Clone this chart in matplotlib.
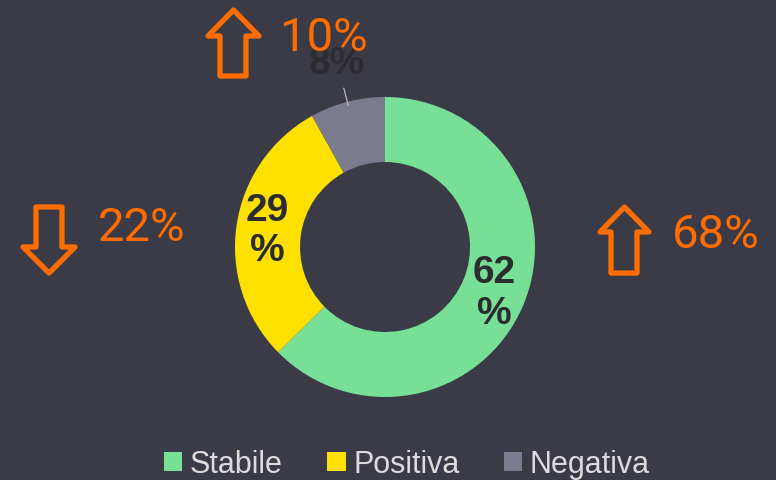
import numpy as np
import matplotlib
matplotlib.use("Agg")
import matplotlib.pyplot as plt
from matplotlib.patches import Polygon

# data
categories = ["Stabile", "Positiva", "Negativa"]
shares = [62, 29, 8]
share_labels = ["62\n%", "29\n%", "8%"]
colors = ["#78df97", "#ffe100", "#7b7a8f"]

# changes shown with arrows
change_texts = ["10%", "22%", "68%"]
change_dirs = ["up", "down", "up"]

BG = "#3b3b47"
ORANGE = "#ff6c00"
W, H = 776, 481

fig = plt.figure(figsize=(W / 100, H / 100), dpi=100, facecolor=BG)
ax = fig.add_axes([0, 0, 1, 1])
ax.set_facecolor(BG)

cx, cy = 385, H - 248
r_out, r_in = 150, 85

wedges, _ = ax.pie(shares, colors=colors, startangle=90, counterclock=False,
                   radius=r_out, center=(cx, cy),
                   wedgeprops=dict(width=r_out - r_in, linewidth=0))

# slice labels
label_r = [118, 119, 190]
for w, lab, rr in zip(wedges, share_labels, label_r):
    mid = np.deg2rad((w.theta1 + w.theta2) / 2)
    x = cx + rr * np.cos(mid)
    y = cy + rr * np.sin(mid)
    ax.text(x, y, lab, ha="center", va="center", fontsize=28, fontweight="bold",
            family="Liberation Sans", color="#2b2b30", linespacing=1.15)

# leader line for the small slice
g = wedges[2]
mid = np.deg2rad((g.theta1 + g.theta2) / 2)
ax.plot([cx + 146 * np.cos(mid), cx + 164 * np.cos(mid)],
        [cy + 146 * np.sin(mid), cy + 164 * np.sin(mid)],
        color="#c8c8c8", lw=0.8)


def block_arrow(x0, x1, ytop, ybot, ybase, sx0, sx1, up=True):
    xm = (x0 + x1) / 2
    if up:
        pts = [(xm, ytop), (x1, ybase), (sx1, ybase), (sx1, ybot),
               (sx0, ybot), (sx0, ybase), (x0, ybase)]
    else:
        pts = [(xm, ybot), (x0, ybase), (sx0, ybase), (sx0, ytop),
               (sx1, ytop), (sx1, ybase), (x1, ybase)]
    pts = [(px, H - py) for px, py in pts]
    ax.add_patch(Polygon(pts, closed=True, fill=False, edgecolor=ORANGE,
                         lw=3.8, joinstyle="round"))


# arrows (pixel geometry)
block_arrow(208, 259, 11, 77, 37, 220, 246, up=(change_dirs[0] == "up"))
block_arrow(23, 75, 208, 274, 248, 36, 62, up=(change_dirs[1] == "up"))
block_arrow(600, 649, 208, 274, 233, 611, 637, up=(change_dirs[2] == "up"))

text_pos = [(324, 38), (142, 228), (716, 235)]
for (tx, ty), t in zip(text_pos, change_texts):
    ax.text(tx, H - ty, t, ha="center", va="center", fontsize=34,
            family="Roboto", fontweight="normal", color=ORANGE)

leg = ax.legend(wedges, categories, loc="center", ncol=3, frameon=False,
                bbox_to_anchor=(407 / W, 1 - 465 / H),
                bbox_transform=fig.transFigure,
                handlelength=0.6, handleheight=0.6, handletextpad=0.25,
                columnspacing=1.45,
                prop=dict(family="Liberation Sans", size=22))
for t in leg.get_texts():
    t.set_color("#dcdcdc")

ax.set_xlim(0, W)
ax.set_ylim(0, H)
ax.set_aspect("equal")
ax.axis("off")

fig.savefig("out.png", dpi=100, facecolor=BG)
